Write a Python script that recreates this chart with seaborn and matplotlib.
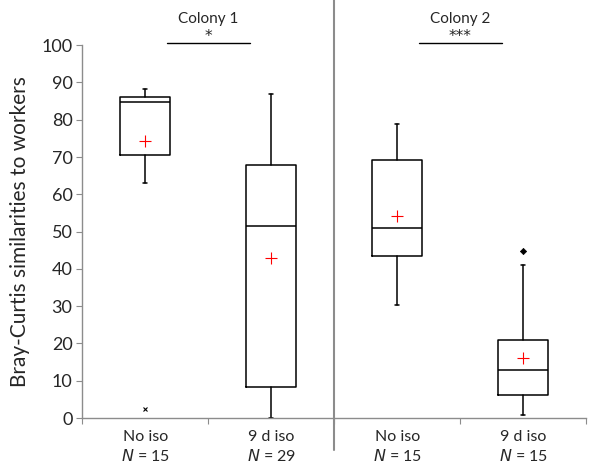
import matplotlib
matplotlib.use("Agg")
import matplotlib.pyplot as plt
import seaborn as sns
import pandas as pd

# ── DATA ──────────────────────────────────────────────────────────────────────
groups    = ["No iso", "9 d iso", "No iso", "9 d iso"]
n_sizes   = [15, 29, 15, 15]
whisk_lo  = [63.0, 0.0, 30.3, 0.9]
q1        = [70.5, 8.3, 43.4, 6.2]
medians   = [84.7, 51.4, 50.9, 12.9]
q3        = [86.0, 67.8, 69.2, 21.0]
whisk_hi  = [88.2, 87.0, 78.9, 41.0]
means     = [74.3, 43.0, 54.2, 16.1]
outliers  = [[2.5], [], [], [44.8]]
out_marks = ["x", None, None, "D"]
colonies  = ["Colony 1", "Colony 2"]
signif    = ["*", "***"]

GRAY = "#8c8c8c"

sns.set_style("white")
plt.rcParams["font.family"] = ["Lato", "DejaVu Sans"]

fig = plt.figure(figsize=(6, 4.66), dpi=100)
ax = fig.add_axes([0.137, 0.103, 0.84, 0.8])

stats = []
for i in range(len(groups)):
    stats.append(dict(whislo=whisk_lo[i], q1=q1[i], med=medians[i],
                      q3=q3[i], whishi=whisk_hi[i], fliers=[]))

ax.bxp(stats, positions=range(len(groups)), widths=0.4, showfliers=False,
       boxprops=dict(color="black", lw=1.1),
       medianprops=dict(color="black", lw=1.1),
       whiskerprops=dict(color="black", lw=1.1),
       capprops=dict(color="black", lw=1.1), capwidths=0.03)

means_df = pd.DataFrame({"x": range(len(groups)), "mean": means})
sns.scatterplot(data=means_df, x="x", y="mean", marker="+", color="red",
                s=80, linewidth=0.8, ax=ax, zorder=4)

for i, (vals, mk) in enumerate(zip(outliers, out_marks)):
    for v in vals:
        ax.plot(i, v, marker=mk, color="black", linestyle="none",
                ms=3.2, mew=0.8 if mk == "x" else 0.5)

ax.set_ylim(0, 100)
ax.set_xlim(-0.5, len(groups) - 0.5)
ax.set_yticks(range(0, 101, 10))
ax.tick_params(axis="y", labelsize=13, length=4, color=GRAY, direction="out",
               left=True, pad=3)
ax.set_xticks([-0.5, 0.5, 1.5, 2.5, 3.5])
ax.set_xticklabels([])
ax.set_xlabel("")
ax.tick_params(axis="x", length=4, color=GRAY, direction="out", bottom=True)
for i, (g, n) in enumerate(zip(groups, n_sizes)):
    ax.text(i, -5.0, g, ha="center", va="center", fontsize=11.5)
    ax.text(i, -10.3, f"$\\it{{N}}$ = {n}", ha="center", va="center",
            fontsize=11.5)

ax.set_ylabel("Bray-Curtis similarities to workers", fontsize=15, labelpad=8)
sns.despine(ax=ax, top=True, right=True)
for s in ["left", "bottom"]:
    ax.spines[s].set_color(GRAY)
    ax.spines[s].set_linewidth(1.0)

# colony separator
ax.plot([1.5, 1.5], [-8.5, 112], color=GRAY, lw=1.5, clip_on=False)

for k, (col, sig) in enumerate(zip(colonies, signif)):
    c = 2 * k + 0.5
    ax.text(c, 107, col, ha="center", va="center", fontsize=11)
    ax.plot([c - 0.33, c + 0.33], [100.6, 100.6], color="black", lw=1.0,
            clip_on=False)
    ax.text(c, 100.3, sig, ha="center", va="bottom", fontsize=11,
            family="DejaVu Sans")

fig.savefig("out.png", dpi=100)
